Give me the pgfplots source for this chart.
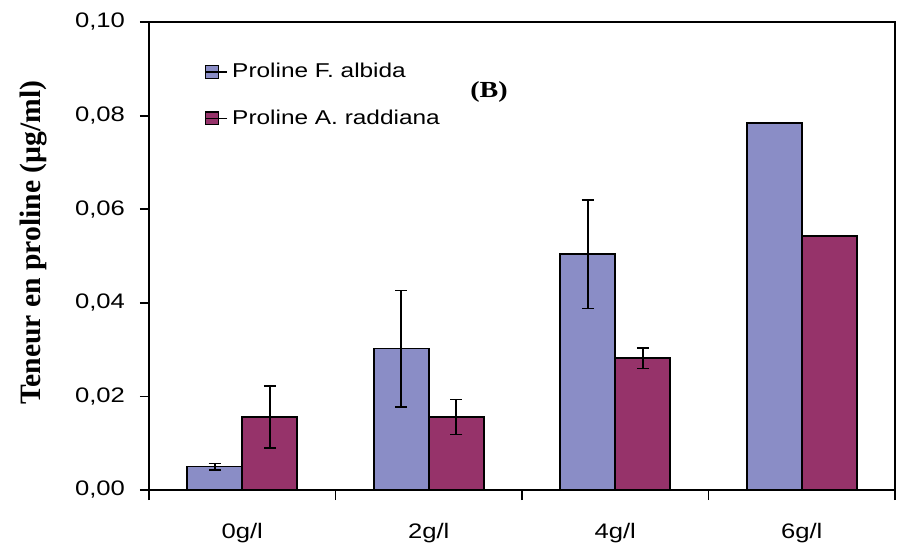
\documentclass[border=0pt]{standalone}
\usepackage{fontspec}
\setmainfont[FakeStretch=1.22]{Liberation Sans}
\newfontfamily\tnr[FakeStretch=1.22]{Liberation Serif}
\newfontfamily\tnrl{Liberation Serif}
\usepackage{pgfplots}
\pgfplotsset{compat=1.18}
\definecolor{cblue}{HTML}{8A8DC6}
\definecolor{cred}{HTML}{96336A}
\begin{document}
\begin{tikzpicture}
\begin{axis}[
  name=ax,
  scale only axis,
  width=373pt, height=234pt,
  xmin=-0.5, xmax=3.5,
  ymin=0, ymax=0.1,
  ybar=0pt, bar width=0.295,
  axis line style={line width=1pt},
  tick style={line width=0.9pt, black},
  tick align=outside,
  xtick pos=bottom, ytick pos=left,
  xtick={0,1,2,3},
  xticklabels={0g/l,2g/l,4g/l,6g/l},
  major x tick style={draw=none},
  minor xtick={-0.5,0.5,1.5,2.5,3.5},
  minor tick length=5pt,
  major tick length=4.5pt,
  ytick={0,0.02,0.04,0.06,0.08,0.1},
  ticklabel style={font=\fontsize{10.5}{12}\selectfont},
  xticklabel style={yshift=-8.5pt},
  yticklabel style={xshift=-4pt, /pgf/number format/.cd, use comma, fixed, fixed zerofill, precision=2, assume math mode=true},
  ylabel={\tnrl\bfseries Teneur en proline (µg/ml)},
  ylabel style={at={(axis description cs:0,0.529)}, anchor=center, yshift=57.5pt, font=\fontsize{14.8}{17}\selectfont},
  legend style={draw=none, fill=none, at={(rel axis cs:0.066,0.93)}, anchor=north west,
    font=\fontsize{10}{12}\selectfont, row sep=10.5pt, cells={anchor=west}},
  legend image code/.code={\draw[#1, draw=black, line width=0.6pt] (0pt,-3.2pt) rectangle (6.4pt,3.2pt); \path (0pt,0pt) -- (11pt,0pt);},
]
\addplot[fill=cblue, draw=black, line width=0.8pt,
  error bars/.cd, y dir=both, y explicit, error bar style={line width=0.8pt, black},
  error mark options={rotate=90, mark size=3pt, line width=0.8pt, black}]
  table[x=x, y=y, y error=e] {
x y e
0 0.0050 0.0007
1 0.0302 0.0124
2 0.0504 0.0116
3 0.0784 0
};
\addlegendentry{Proline F. albida}
\addplot[fill=cred, draw=black, line width=0.8pt,
  error bars/.cd, y dir=both, y explicit, error bar style={line width=0.8pt, black},
  error mark options={rotate=90, mark size=3pt, line width=0.8pt, black}]
  table[x=x, y=y, y error=e] {
x y e
0 0.0156 0.0066
1 0.0156 0.0037
2 0.0282 0.0022
3 0.0543 0
};
\addlegendentry{Proline A. raddiana}
\node[font=\tnr\bfseries\fontsize{11.5}{13}\selectfont] at (axis cs:1.323,0.0851) {(B)};
\end{axis}
\path ([xshift=-74.5pt,yshift=-29pt]ax.south west) rectangle ([xshift=2pt,yshift=11pt]ax.north east);
\end{tikzpicture}
\end{document}
